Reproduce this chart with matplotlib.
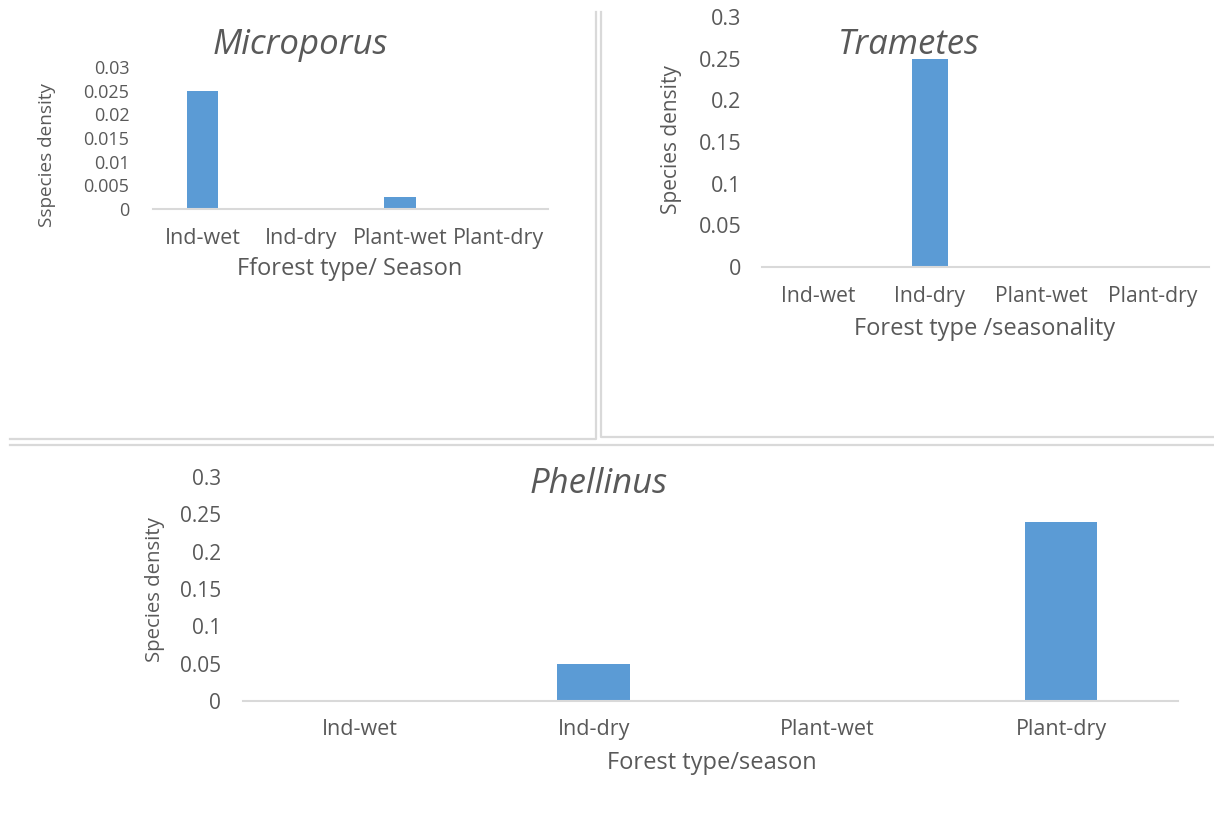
import matplotlib
matplotlib.use("Agg")
import matplotlib.pyplot as plt
from matplotlib.lines import Line2D

# Data
categories = ["Ind-wet", "Ind-dry", "Plant-wet", "Plant-dry"]
microporus = [0.025, 0.0, 0.0025, 0.0]
trametes = [0.0, 0.25, 0.0, 0.0]
phellinus = [0.0, 0.05, 0.0, 0.24]

micro_ticks = [0, 0.005, 0.01, 0.015, 0.02, 0.025, 0.03]
micro_tick_labels = ["0", "0.005", "0.01", "0.015", "0.02", "0.025", "0.03"]
big_ticks = [0, 0.05, 0.1, 0.15, 0.2, 0.25, 0.3]
big_tick_labels = ["0", "0.05", "0.1", "0.15", "0.2", "0.25", "0.3"]

W, H = 1214, 816
BAR = "#5b9bd5"
TXT = "#595959"
LINE = "#d9d9d9"
FONT = "Open Sans"

plt.rcParams["font.family"] = [FONT, "DejaVu Sans"]
fig = plt.figure(figsize=(W / 100, H / 100), dpi=100)
fig.patch.set_facecolor("white")


def px_axes(x0, x1, ytop, y0):
    """Axes placed by pixel box (top-left origin)."""
    return fig.add_axes([x0 / W, 1 - y0 / H, (x1 - x0) / W, (y0 - ytop) / H])


def ftext(x, y, s, **kw):
    fig.text(x / W, 1 - y / H, s, ha="center", va="center", color=TXT, **kw)


def panel(ax, values, ticks, labels, ytop, bw, xfs, yfs, xpad, ypad):
    xs = range(len(categories))
    ax.bar(xs, values, width=bw, color=BAR, zorder=2)
    ax.set_xlim(-0.5, len(categories) - 0.5)
    ax.set_ylim(0, ytop)
    ax.set_xticks(list(xs))
    ax.set_xticklabels(categories, fontsize=xfs, color=TXT)
    ax.set_yticks(ticks)
    ax.set_yticklabels(labels, fontsize=yfs, color=TXT)
    ax.tick_params(axis="both", length=0)
    ax.tick_params(axis="x", pad=xpad)
    ax.tick_params(axis="y", pad=ypad)
    for side in ("top", "right", "left"):
        ax.spines[side].set_visible(False)
    ax.spines["bottom"].set_color(LINE)
    ax.spines["bottom"].set_linewidth(1.5)
    ax.set_facecolor("none")


# Microporus panel
ax1 = px_axes(153, 548, 67, 209)
panel(ax1, microporus, micro_ticks, micro_tick_labels, 0.03, 0.32, 15.5, 13, 14, 17)
ftext(300, 45, "Microporus", fontsize=25, style="italic")
ftext(350, 269, "Fforest type/ Season", fontsize=17)
ftext(47, 155, "Sspecies density", fontsize=13.6, rotation=90)

# Trametes panel
ax2 = px_axes(762, 1209, 17, 267)
panel(ax2, trametes, big_ticks, big_tick_labels, 0.3, 0.32, 15.2, 15.5, 14, 15)
ftext(909, 45, "Trametes", fontsize=25, style="italic")
ftext(985, 329, "Forest type /seasonality", fontsize=17)
ftext(672, 140, "Species density", fontsize=15, rotation=90)

# Phellinus panel
ax3 = px_axes(243, 1178, 477, 701)
panel(ax3, phellinus, big_ticks, big_tick_labels, 0.3, 0.31, 15.5, 15, 13, 16)
ftext(599, 484, "Phellinus", fontsize=25, style="italic")
ftext(712, 763, "Forest type/season", fontsize=17)
ftext(155, 590, "Species density", fontsize=14.7, rotation=90)

# Chart frame borders
def fline(xs, ys):
    fig.add_artist(Line2D([x / W for x in xs], [1 - y / H for y in ys],
                          color=LINE, linewidth=1.6))

fline([10, 596, 596], [439, 439, 12])
fline([601, 601, 1214], [12, 437, 437])
fline([10, 1214], [445, 445])

fig.savefig("out.png", dpi=100, facecolor="white")
